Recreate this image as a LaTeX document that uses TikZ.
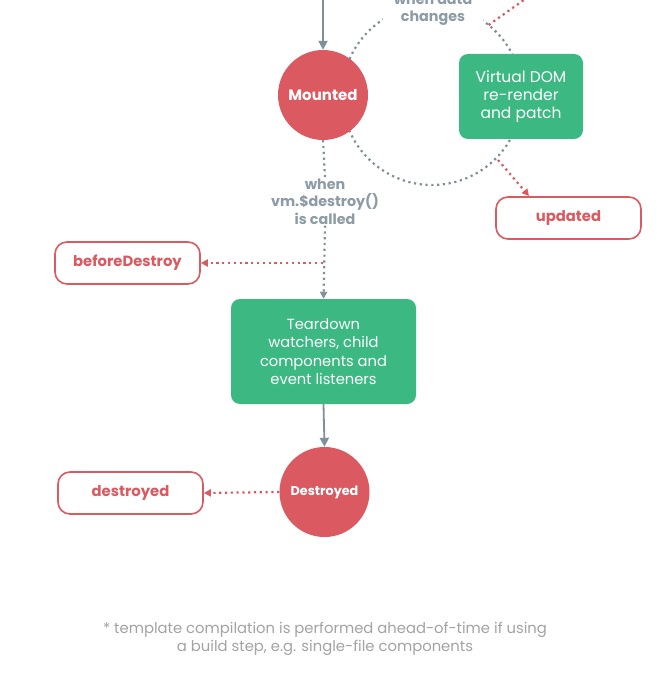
\documentclass[tikz,border=0pt]{standalone}
\usepackage{fontspec}
\setmainfont{Poppins}
\usetikzlibrary{arrows.meta}
\definecolor{vred}{HTML}{DB5A61}
\definecolor{vgreen}{HTML}{3CB982}
\definecolor{vgray}{HTML}{7F909B}
\definecolor{vtext}{HTML}{8C9BA5}
\definecolor{vfoot}{HTML}{A3A3A3}
\tikzset{
 hook/.style={draw=vred, line width=1.6pt, rounded corners=12pt, fill=white, minimum width=145pt, minimum height=42pt, text=vred, font=\bfseries\fontsize{14.8}{17}\selectfont},
 state/.style={circle, fill=vred, minimum size=90pt, inner sep=0pt, text=white, font=\bfseries\fontsize{15}{17}\selectfont},
 proc/.style={fill=vgreen, rounded corners=9pt, text=white, align=center, inner sep=0pt, font=\fontsize{14.7}{18.5}\selectfont},
 flow/.style={draw=vgray, line width=1.8pt, -{Triangle[length=9pt,width=9pt]}},
 dotg/.style={draw=vgray, line width=2.2pt, dash pattern=on 2.2pt off 3.6pt},
 dotga/.style={dotg, -{Triangle[length=7pt,width=7pt]}},
 dotr/.style={draw=vred, line width=2.2pt, dash pattern=on 2.2pt off 3.6pt},
 dotra/.style={dotr, -{Triangle[length=7pt,width=7pt]}},
 lbl/.style={text=vtext, align=center, font=\bfseries\fontsize{14.3}{17.5}\selectfont, fill=white},
}
\begin{document}
\begin{tikzpicture}[x=1pt,y=-1pt]
\useasboundingbox (0,0) rectangle (656,687);
\fill[white] (0,0) rectangle (656,687);
\clip (0,0) rectangle (656,687);
% update loop circle
\draw[dotg] (432,95) circle[radius=90pt];
\node[lbl, inner xsep=11pt, inner ysep=2pt] (wdc) at (433,9.5) {when data\\changes};
\node[proc, minimum width=124pt, minimum height=85pt, font=\fontsize{15.5}{18}\selectfont] (vdom) at (521,96.5) {Virtual DOM\\re-render\\and patch};
\node[state] (mounted) at (323,95) {Mounted};
\coordinate (top) at (323,-5);
\draw[flow] (top) -- (mounted.north);
% beforeUpdate (out of frame) and updated
\coordinate (bu0) at (488.6,25);
\coordinate (bu1) at (545,-15);
\draw[dotr] (bu0) -- (bu1);
\node[hook] (updated) at (568.5,218) {updated};
\coordinate (up0) at (498,160);
\coordinate (up1) at (529,196);
\draw[dotra] (up0) -- (up1);
% destroy
\node[lbl, inner sep=1pt] (wdes) at (325,201.5) {when\\vm.\$destroy()\\is called};
\node[proc, minimum width=185pt, minimum height=105pt] (tear) at (323.5,351.5) {Teardown\\watchers, child\\components and\\event listeners};
\draw[dotg] (mounted.south) -- (wdes.north);
\draw[dotga] (wdes.south) -- (tear.north);
\node[hook] (bdes) at (127.5,263) {beforeDestroy};
\coordinate (bd0) at (323,263);
\draw[dotra] (bd0) -- (bdes.east);
\node[state, font=\bfseries\fontsize{12.8}{15}\selectfont] (destroyed) at (324.5,492) {Destroyed};
\draw[flow] (tear.south) -- (destroyed.north);
\node[hook] (des) at (130.5,493) {destroyed};
\draw[dotra] (destroyed.west) -- (des.east);
% footer
\node[text=vfoot, align=center, font=\fontsize{14.8}{18}\selectfont] (foot) at (325,639) {* template compilation is performed ahead-of-time if using\\a build step, e.g. single-file components};
\end{tikzpicture}
\end{document}
